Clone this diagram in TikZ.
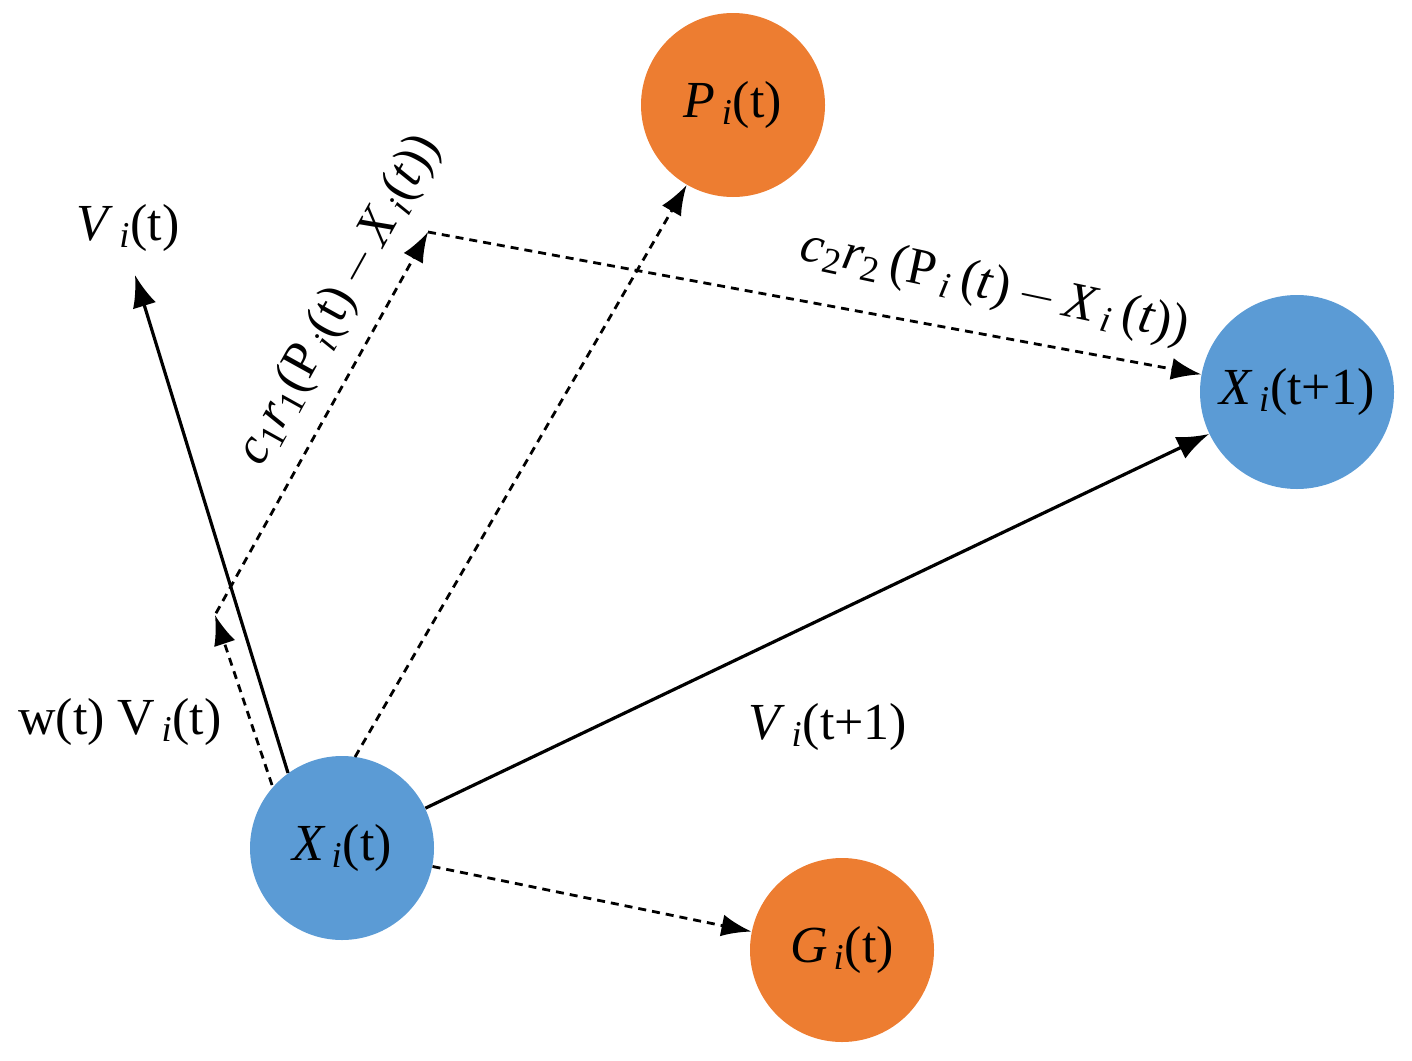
\documentclass[tikz,border=0pt]{standalone}
\usepackage{fontspec}
\setmainfont{Liberation Serif}
\usetikzlibrary{arrows.meta}
\definecolor{org}{HTML}{ED7D31}
\definecolor{blu}{HTML}{5B9BD5}
\newcommand{\vsub}[2]{\textit{#1}\textsubscript{\,\textit{#2}}}
\begin{document}
\begin{tikzpicture}[x=0.5pt,y=-0.5pt,
  ball/.style={circle,minimum size=92pt,inner sep=0pt},
  txt/.style={font=\fontsize{26}{30}\selectfont},
  sol/.style={line width=1.6pt,-{Latex[length=16pt,width=12pt]}},
  dsh/.style={line width=1.4pt,dash pattern=on 4pt off 3pt,-{Latex[length=15pt,width=11pt]}}]
\useasboundingbox (0,0) rectangle (1412,1060);
\node[ball,fill=blu,txt] (X) at (342,848) {\vsub{X}{i}(t)};
\node[ball,fill=org,txt] (P) at (733,105) {\vsub{P}{i}(t)};
\node[ball,fill=blu,txt,minimum size=97pt] (X1) at (1297,392) {\vsub{X}{i}(t+1)};
\node[ball,fill=org,txt] (G) at (842,950) {\vsub{G}{i}(t)};
\coordinate (xs1) at (288,773);
\coordinate (vt) at (135,275);
\node[txt] (vl) at (128,228) {\vsub{V}{i}(t)};
\coordinate (xs2) at (272,785);
\coordinate (w) at (215,615);
\coordinate (c) at (428,232);
\coordinate (xs3) at (355,757);
\draw[sol] (xs1) -- (vt);
\draw[sol] (X) -- (X1);
\draw[dsh] (xs3) -- (P);
\draw[dsh] (xs2) -- (w);
\draw[dsh,shorten <=1pt] (w) -- (c);
\draw[dsh] (c) -- (X1);
\draw[dsh] (X) -- (G);
\node[txt] (wl) at (120,722) {w(t) V\textsubscript{\,\textit{i}}(t)};
\node[txt] (vl1) at (828,727) {\vsub{V}{i}(t+1)};
\node[txt,rotate=-12] (c2) at (995,288) {\textit{c}\textsubscript{2}\textit{r}\textsubscript{2}\,(P\textsubscript{\,\textit{i}}\,(\textit{t})\,$-$\,\vsub{X}{i}\,(\textit{t}))};
\node[txt,rotate=61] (c1) at (340,300) {\textit{c}\textsubscript{1}\textit{r}\textsubscript{1}(P\textsubscript{\,\textit{i}}(t)\,$-$\,\vsub{X}{i}(\textit{t}))};
\end{tikzpicture}
\end{document}
